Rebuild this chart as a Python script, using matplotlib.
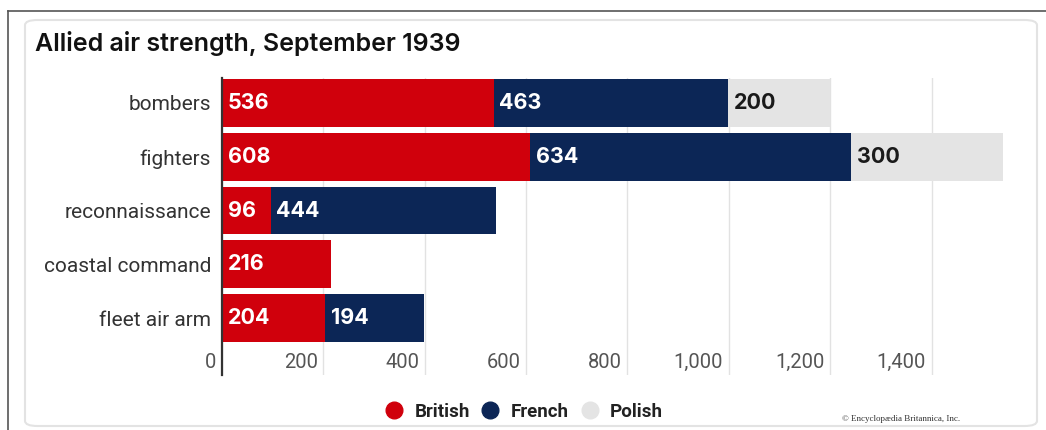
import matplotlib
matplotlib.use("Agg")
import matplotlib.pyplot as plt
from matplotlib.patches import FancyBboxPatch
from matplotlib.lines import Line2D
from matplotlib.transforms import offset_copy

categories = ["bombers", "fighters", "reconnaissance", "coastal command", "fleet air arm"]
british = [536, 608, 96, 216, 204]
french = [463, 634, 444, 0, 194]
polish = [200, 300, 0, 0, 0]
series_names = ["British", "French", "Polish"]
colors = ["#d0000c", "#0c2656", "#e4e4e4"]
label_colors = ["white", "white", "#1a1a1a"]
xticks = [0, 200, 400, 600, 800, 1000, 1200, 1400]
xticklabels = ["0", "200", "400", "600", "800", "1,000", "1,200", "1,400"]

narrow = "Roboto"
main = "Inter"

W, H = 1046, 430
fig = plt.figure(figsize=(W / 100, H / 100), dpi=100)
fig.patch.set_facecolor("white")

# outer frame lines
fig.add_artist(Line2D([8 / W, 8 / W], [0, 1 - 11 / H], transform=fig.transFigure, color="#555555", lw=1.2))
fig.add_artist(Line2D([8 / W, 1], [1 - 11 / H, 1 - 11 / H], transform=fig.transFigure, color="#555555", lw=1.2))
# inner card
card = FancyBboxPatch((25 / W, 4 / H), (1037 - 25) / W, 406 / H,
                      boxstyle="round,pad=0,rounding_size=0.012", transform=fig.transFigure,
                      facecolor="white", edgecolor="#e3e3e3", lw=1.5, zorder=-5)
fig.add_artist(card)

ax = fig.add_axes([222 / W, 1 - 375 / H, (1005 - 222) / W, (375 - 78) / H])
ax.set_zorder(2)
ax.set_facecolor("none")
y = list(range(len(categories)))
left = [0] * len(categories)
for vals, c, lc in zip([british, french, polish], colors, label_colors):
    ax.barh(y, vals, left=left, height=0.89, color=c, zorder=3)
    for yi, v, l in zip(y, vals, left):
        if v > 0:
            ax.annotate(str(v), (l, yi), xytext=(4, 0), textcoords="offset points",
                        ha="left", va="center", color=lc, fontsize=15.5,
                        fontweight="bold", family=main, zorder=4)
    left = [a + b for a, b in zip(left, vals)]

ax.set_xlim(0, 1545)
ax.set_ylim(4 + 1.06, -0.465)
ax.set_yticks(y)
ax.set_yticklabels(categories, fontsize=15, color="#333333", family="Roboto")
ax.tick_params(axis="y", length=0, pad=8)
ax.set_xticks(xticks)
ax.set_xticklabels([])
ax.tick_params(axis="x", length=0)
ax.grid(axis="x", color="#e2e2e2", lw=1, zorder=0)
for s in ["top", "right", "bottom"]:
    ax.spines[s].set_visible(False)
ax.spines["left"].set_color("#333333")
ax.spines["left"].set_linewidth(1.6)
ax.spines["left"].set_zorder(5)

tr = offset_copy(ax.get_xaxis_transform(), fig=fig, x=-4, y=0, units="points")
for t, lab in zip(xticks, xticklabels):
    ax.text(t, 13 / 297, lab, transform=tr, ha="right", va="center",
            fontsize=14.5, color="#555555", family=narrow)

fig.text(35 / W, 1 - 44 / H, "Allied air strength, September 1939", fontsize=18,
         fontweight="semibold", color="#111111", family=main, va="center", ha="left")

handles = [Line2D([], [], marker="o", linestyle="none", markersize=12, color=c) for c in colors]
leg = fig.legend(handles, series_names, loc="center", bbox_to_anchor=(519 / W, 1 - 412 / H),
                 ncol=3, frameon=False, handletextpad=0.1, columnspacing=0.1,
                 prop={"family": narrow, "weight": "bold", "size": 13.5})
for t in leg.get_texts():
    t.set_color("#222222")

fig.text(960 / W, 1 - 419 / H, "© Encyclopædia Britannica, Inc.", fontsize=6.5,
         family="Liberation Serif", color="#333333", ha="right", va="center")

fig.savefig("out.png", dpi=100, facecolor="white")
